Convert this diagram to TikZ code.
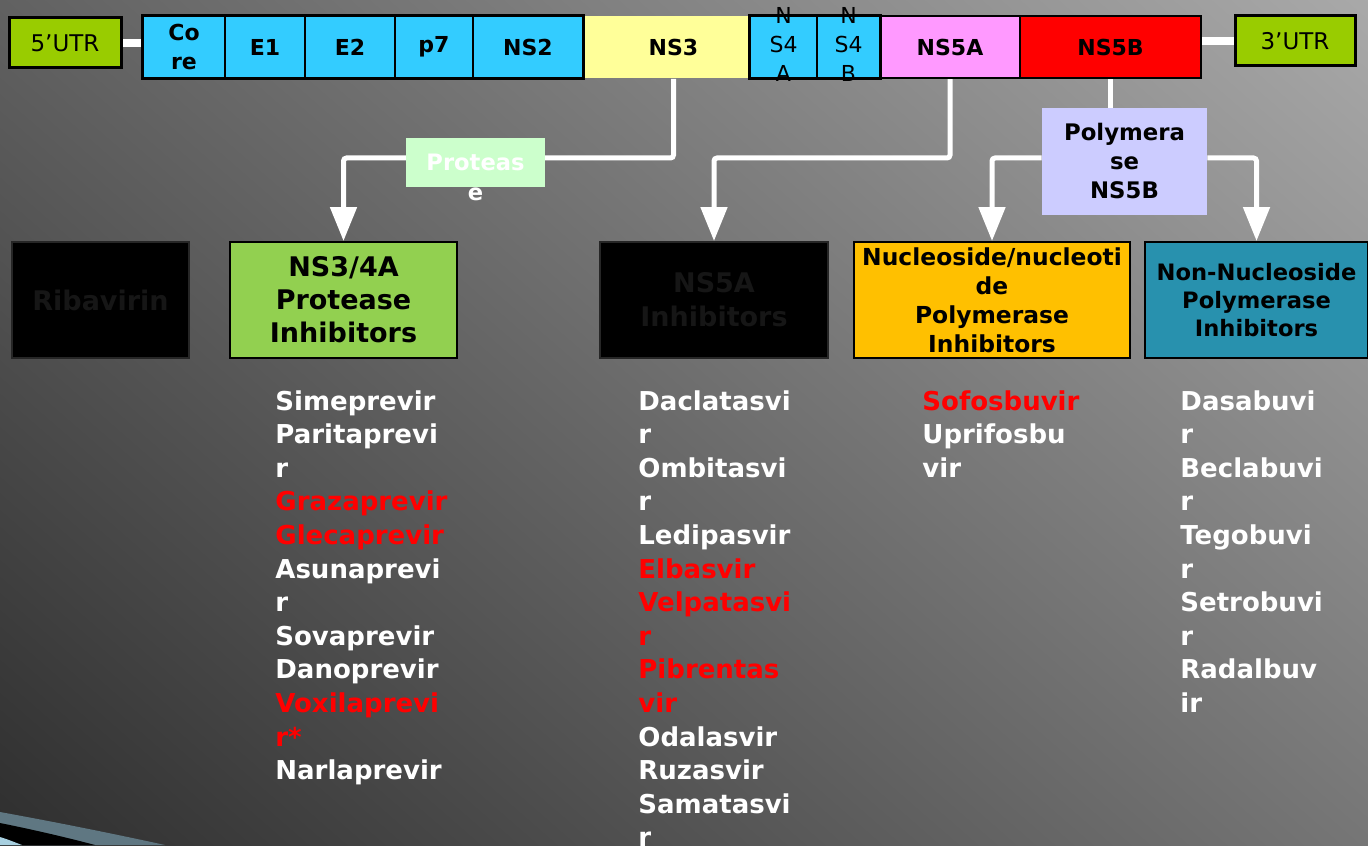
\documentclass[tikz,border=0pt]{standalone}
\usepackage{fontspec}
\setmainfont{DejaVu Sans}
\usetikzlibrary{arrows.meta,fit}
\definecolor{utrgreen}{HTML}{99CC00}
\definecolor{segblue}{HTML}{33CCFF}
\definecolor{ns3yellow}{HTML}{FFFF99}
\definecolor{ns5apink}{HTML}{FF99FF}
\definecolor{ns5bred}{HTML}{FF0000}
\definecolor{protgreen}{HTML}{CCFFCC}
\definecolor{polyblue}{HTML}{CCCCFF}
\definecolor{pigreen}{HTML}{92D050}
\definecolor{nucorange}{HTML}{FFC000}
\definecolor{nonnucteal}{HTML}{2891AE}
\definecolor{bglight}{HTML}{C3C3C3}
\definecolor{bgdark}{HTML}{141414}
\definecolor{swooshgray}{HTML}{5F7782}
\definecolor{swooshlight}{HTML}{A8D0E0}
\definecolor{dimtext}{HTML}{161616}
\definecolor{drugred}{HTML}{FF0000}
\pgfdeclarelayer{bg}
\pgfdeclarelayer{lines}
\pgfsetlayers{bg,lines,main}
\begin{document}
\begin{tikzpicture}[x=0.5pt,y=-0.5pt,
  utrbox/.style={draw=black, line width=1.5pt, fill=utrgreen, inner sep=0pt,
    minimum height=25pt, font=\fontsize{11.5}{14}\selectfont},
  seg/.style={draw=black, line width=0.8pt, inner sep=0pt, minimum height=31pt,
    align=center, font=\bfseries\fontsize{11}{14.5}\selectfont},
  segthin/.style={draw=black, line width=0.8pt, inner sep=0pt, minimum height=31pt,
    font=\fontsize{11}{14.5}\selectfont},
  grp/.style={draw=black, line width=1.5pt, inner sep=0pt},
  rowbox/.style={draw=black, line width=1pt, inner sep=1pt, minimum height=58pt,
    align=center},
  darkbox/.style={rowbox, fill=black, draw=black!85!white, text=dimtext,
    font=\bfseries\fontsize{13.5}{17}\selectfont},
  drugs/.style={anchor=north west, inner sep=0pt, align=left, text=white,
    font=\bfseries\fontsize{13}{16.8}\selectfont},
  conn/.style={draw=white, line width=2.5pt, rounded corners=1.5pt,
    -{Triangle[width=13pt,length=17pt]}},
  plainconn/.style={draw=white, line width=2.5pt},
  utrbar/.style={draw=white, line width=4pt}
]
\useasboundingbox (0,0) rectangle (1368,845);
\begin{pgfonlayer}{bg}
  \begin{scope}
    \clip (0,0) rectangle (1368,845);
    \shade[shading=axis, top color=bglight, bottom color=bgdark, shading angle=-41]
      (-416,-677.5) rectangle (1784,1522.5);
  \end{scope}
  \fill[swooshgray] (0,812) .. controls (55,822) and (110,833) .. (165,845) -- (0,845) -- cycle;
  \fill[black] (0,823) .. controls (30,829) and (65,837) .. (95,845) -- (0,845) -- cycle;
  \fill[swooshlight] (0,837) .. controls (7,839) and (14,842) .. (22,845) -- (0,845) -- cycle;
\end{pgfonlayer}

% genome
\node[utrbox, minimum width=56pt] (utr5) at (65,43) {5’UTR};
\node[utrbox, minimum width=60pt] (utr3) at (1295,41) {3’UTR};
\node[seg, fill=segblue, minimum width=41pt] (core) at (184,47) {Co\\re};
\node[seg, fill=segblue, minimum width=40pt] (e1) at (265,47) {E1};
\node[seg, fill=segblue, minimum width=45pt] (e2) at (350,47) {E2};
\node[seg, fill=segblue, minimum width=39pt] (p7) at (434,47) {p7};
\node[seg, fill=segblue, minimum width=55pt] (ns2) at (528,47) {NS2};
\node[seg, draw=none, fill=ns3yellow, minimum width=83.5pt] (ns3) at (666.5,47) {\hspace*{7pt}NS3};
\node[segthin, fill=segblue, minimum width=33.5pt] (ns4a) at (783.5,47)
  {\smash{\raisebox{-0.25em}{\begin{tabular}{@{}c@{}}N\\S4\\A\end{tabular}}}};
\node[segthin, fill=segblue, minimum width=31.5pt] (ns4b) at (848.5,47)
  {\smash{\raisebox{-0.25em}{\begin{tabular}{@{}c@{}}N\\S4\\B\end{tabular}}}};
\node[seg, fill=ns5apink, minimum width=70pt] (ns5a) at (950,47) {NS5A};
\node[seg, fill=ns5bred, minimum width=90.5pt] (ns5b) at (1110.5,47) {NS5B};
\node[grp, fit=(core)(ns2)] (grpA) {};
\node[grp, fit=(ns4a)(ns4b)] (grpB) {};

% intermediate labels
\node[fill=protgreen, minimum width=69.5pt, minimum height=24.5pt, inner sep=0pt,
  text=white, text height=8pt, text depth=0pt,
  font=\bfseries\fontsize{11.3}{15}\selectfont] (prot) at (475.5,162.5)
  {\begin{tabular}[t]{@{}c@{}}Proteas\\e\end{tabular}};
\node[fill=polyblue, minimum width=82.5pt, minimum height=53.5pt, inner sep=0pt,
  align=center, font=\bfseries\fontsize{11.4}{14.5}\selectfont] (poly) at (1124.5,161.5)
  {Polymera\\se\\NS5B};

% class boxes
\node[darkbox, minimum width=88.5pt] (riba) at (100.5,300) {Ribavirin};
\node[rowbox, fill=pigreen, minimum width=113.5pt,
  font=\bfseries\fontsize{13.5}{16.5}\selectfont] (ns34a) at (343.5,300)
  {NS3/4A\\Protease\\Inhibitors};
\node[darkbox, minimum width=114pt] (ns5ai) at (714,300) {NS5A\\Inhibitors};
\node[rowbox, fill=nucorange, minimum width=138pt,
  font=\bfseries\fontsize{11.7}{14.5}\selectfont] (nuc) at (992,300)
  {Nucleoside/nucleoti\\de\\Polymerase\\Inhibitors};
\node[rowbox, fill=nonnucteal, minimum width=111.5pt,
  font=\bfseries\fontsize{11.3}{14}\selectfont] (nonnuc) at (1256.5,300)
  {Non-Nucleoside\\Polymerase\\Inhibitors};

% drug lists
\node[drugs] (listpi) at (275,390) {Simeprevir\\Paritaprevi\\r\\
  \textcolor{drugred}{Grazaprevir}\\\textcolor{drugred}{Glecaprevir}\\
  Asunaprevi\\r\\Sovaprevir\\Danoprevir\\
  \textcolor{drugred}{Voxilaprevi}\\\textcolor{drugred}{r*}\\Narlaprevir};
\node[drugs] (listns5a) at (638,390) {Daclatasvi\\r\\Ombitasvi\\r\\Ledipasvir\\
  \textcolor{drugred}{Elbasvir}\\\textcolor{drugred}{Velpatasvi}\\\textcolor{drugred}{r}\\
  \textcolor{drugred}{Pibrentas}\\\textcolor{drugred}{vir}\\
  Odalasvir\\Ruzasvir\\Samatasvi\\r};
\node[drugs] (listnuc) at (922,390) {\textcolor{drugred}{Sofosbuvir}\\Uprifosbu\\vir};
\node[drugs] (listnon) at (1180,390) {Dasabuvi\\r\\Beclabuvi\\r\\Tegobuvi\\r\\
  Setrobuvi\\r\\Radalbuv\\ir};

\coordinate (yb) at (0,158);
\begin{pgfonlayer}{lines}
  \draw[utrbar] (utr5.east) -- (core.west |- utr5.east);
  \draw[utrbar] (ns5b.east |- utr3.west) -- (utr3.west);
  \draw[conn] ([xshift=3.5pt]ns3.south) -- ([xshift=3.5pt]ns3.south |- yb) -| (ns34a.north);
  \draw[conn] (ns5a.south) -- (ns5a.south |- yb) -| (ns5ai.north);
  \draw[plainconn] (ns5b.south) -- (ns5b.south |- poly.north);
  \draw[conn] (poly.west |- yb) -| (nuc.north);
  \draw[conn] (poly.east |- yb) -| (nonnuc.north);
\end{pgfonlayer}
\end{tikzpicture}
\end{document}
